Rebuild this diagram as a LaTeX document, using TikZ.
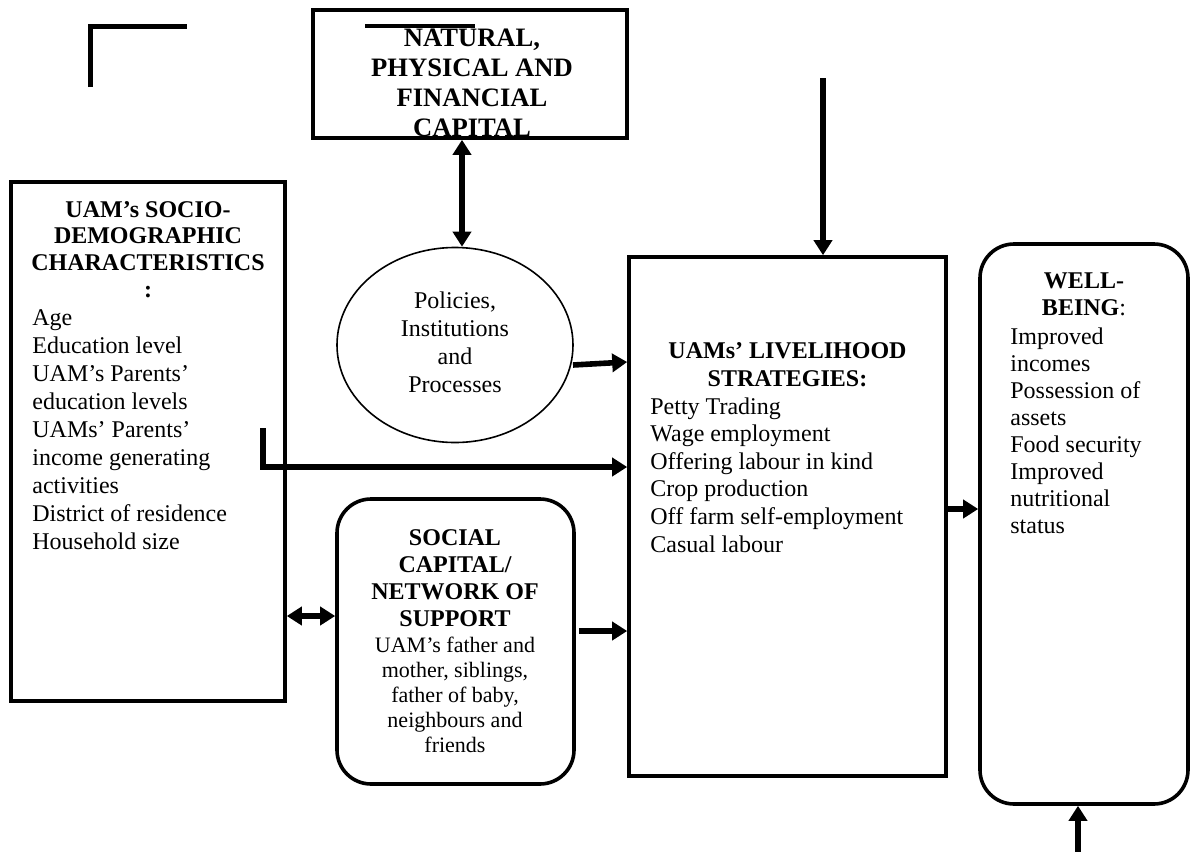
\documentclass[tikz,border=0pt]{standalone}
\usepackage{fontspec}
\setmainfont{Liberation Serif}
\usetikzlibrary{arrows.meta,shapes.geometric,calc}
\begin{document}
\begin{tikzpicture}[x=0.5pt,y=-0.5pt,
  boxline/.style={draw,line width=1.8pt,inner sep=0pt},
  rbox/.style={boxline,rounded corners=17pt},
  arr/.style={line width=2.8pt,-{Triangle[length=7.5pt,width=9pt]}},
  dblarr/.style={line width=2.8pt,{Triangle[length=7.5pt,width=9pt]}-{Triangle[length=7.5pt,width=9pt]}},
  stray/.style={line width=2.5pt},
  bhead/.style={font=\bfseries\fontsize{12}{13.3}\selectfont,align=center,inner sep=0pt,anchor=north},
  rlist/.style={font=\fontsize{12}{14}\selectfont,align=left,inner sep=0pt,anchor=north west}]
\useasboundingbox (0,0) rectangle (1191,852);

% stray marks
\coordinate (m1) at (90,87);
\coordinate (m2) at (90,26);
\coordinate (m3) at (187,26);
\draw[stray] (m1) -- (m2) -- (m3);

% top box
\node[boxline,minimum width=157pt,minimum height=64pt] (top) at (470,74) {};
\node[font=\bfseries\fontsize{13.3}{15}\selectfont,align=center,inner sep=0pt,anchor=north] (toptxt) at (472,29)
  {NATURAL,\\PHYSICAL AND\\FINANCIAL\\CAPITAL};
\coordinate (o1) at (365,26);
\coordinate (o2) at (475,26);
\draw[line width=2pt] (o1) -- (o2);

% left box
\node[boxline,minimum width=137pt,minimum height=259.5pt] (left) at (148,441.5) {};
\node[bhead,font=\bfseries\fontsize{12}{13.3}\selectfont] (lefthead) at (148,201)
  {UAM’s SOCIO-\\DEMOGRAPHIC\\CHARACTERISTICS\\:};
\node[rlist] (leftlist) at (32,309)
  {Age\\Education level\\UAM’s Parents’\\education levels\\UAMs’ Parents’\\income generating\\activities\\District of residence\\Household size};

% ellipse
\node[draw,ellipse,line width=0.8pt,minimum width=118pt,minimum height=97.5pt,inner sep=0pt] (ell) at (455,345) {};
\node[font=\fontsize{12}{14}\selectfont,align=center,inner sep=0pt,anchor=north] (elltxt) at (455,291)
  {Policies,\\Institutions\\and\\Processes};

% social capital box
\node[rbox,minimum width=118.5pt,minimum height=142.5pt] (soc) at (455.5,641.5) {};
\node[bhead,font=\bfseries\fontsize{12}{13.5}\selectfont] (sochead) at (455,529)
  {SOCIAL\\CAPITAL/\\NETWORK OF\\SUPPORT};
\node[font=\fontsize{11}{12.5}\selectfont,align=center,inner sep=0pt,anchor=north] (soclist) at (455,637)
  {UAM’s father and\\mother, siblings,\\father of baby,\\neighbours and\\friends};

% livelihood box
\node[boxline,minimum width=158.5pt,minimum height=259.5pt] (live) at (787.5,516.5) {};
\node[bhead,font=\bfseries\fontsize{12}{14}\selectfont] (livehead) at (787.5,342)
  {UAMs’ LIVELIHOOD\\STRATEGIES:};
\node[rlist,font=\fontsize{12}{13.8}\selectfont] (livelist) at (650,397)
  {Petty Trading\\Wage employment\\Offering labour in kind\\Crop production\\Off farm self-employment\\Casual labour};

% well-being box
\node[rbox,minimum width=104pt,minimum height=280pt] (well) at (1084,524) {};
\node[bhead,font=\bfseries\fontsize{12}{13.5}\selectfont] (wellhead) at (1084,272)
  {WELL-\\BEING\textmd{:}};
\node[rlist,font=\fontsize{12}{13.5}\selectfont] (welllist) at (1010,327)
  {Improved\\incomes\\Possession of\\assets\\Food security\\Improved\\nutritional\\status};

% connectors
\coordinate (cx1) at (462,0);
\draw[dblarr] (top.south -| cx1) -- (ell.north -| cx1);

\coordinate (ts) at (823,78);
\draw[arr] (ts) -- (live.north -| ts);

\coordinate (e1) at (573,365);
\coordinate (e2) at (0,362);
\draw[arr] (e1) -- (live.west |- e2);

\coordinate (ls) at (263,428);
\coordinate (lc) at (263,467);
\draw[line width=2.8pt,-{Triangle[length=7.5pt,width=9pt]}] (ls) -- (lc) -- (live.west |- lc);

\coordinate (d1) at (0,616);
\draw[dblarr] (left.east |- d1) -- (soc.west |- d1);

\coordinate (s1) at (0,631);
\draw[arr] ([xshift=1.5pt]soc.east |- s1) -- (live.west |- s1);

\coordinate (w1) at (0,509);
\draw[arr] (live.east |- w1) -- (well.west |- w1);

\coordinate (bs) at (1078,852);
\draw[arr] (bs) -- (well.south -| bs);
\end{tikzpicture}
\end{document}
